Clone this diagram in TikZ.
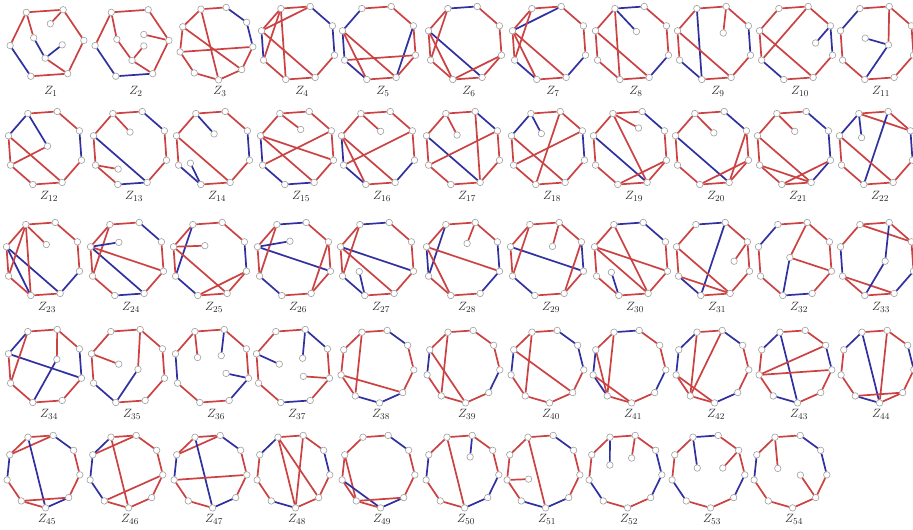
\documentclass[tikz,border=0pt]{standalone}
\usepackage{tikz}
\definecolor{zr}{RGB}{204,66,66}
\definecolor{zb}{RGB}{48,48,160}
\tikzset{
  vtx/.style={circle,draw=gray!75,fill=white,line width=0.6pt,inner sep=0pt,minimum size=6.5pt},
  edge/.style={line width=1.7pt},
  lab/.style={font=\fontsize{13}{15}\selectfont,text=black!85,inner sep=0pt,anchor=base}
}
\newcommand\zgraph[5]{%
  \pgfmathsetmacro\zR{(#4==8)?38.5:37}%
  \coordinate (z#1c) at (#2,530-#3);
  \foreach \i in {1,...,#4}{%
    \pgfmathsetmacro\zang{94+180/#4-(\i-1)*360/#4}%
    \node[vtx] (z#1v\i) at ([shift={(\zang:\zR)}]z#1c) {};
  }%
  \foreach \c [count=\i] in {#5}{%
    \pgfmathtruncatemacro\j{mod(\i,#4)+1}%
    \draw[edge,draw=z\c] (z#1v\i) -- (z#1v\j);
  }%
  \node[lab] (z#1l) at ([shift={(4,-52)}]z#1c) {$Z_{#1}$};
}
\newcommand\zpts[2]{\foreach \nm/\px/\py in {#2}{\node[vtx] (z#1\nm) at ([shift={(\px*37,\py*37)}]z#1c) {};}}
\newcommand\zedges[2]{\foreach \a/\b/\c in {#2}{\draw[edge,draw=z\c] (z#1\a) -- (z#1\b);}}
\begin{document}
\begin{tikzpicture}[x=1pt,y=1pt]
\useasboundingbox (0,0) rectangle (913,530);
\fill[white] (0,0) rectangle (913,530);
% ---------- row 1
\zgraph{1}{47}{43}{6}{r,r,r,r,b,r}
\zpts{1}{p1/0.09/0.52,p2/-0.36/0.14,p3/0.41/-0.05,p4/-0.05/-0.41}
\zedges{1}{v2/p1/r,v1/p2/r,p2/p4/b,p4/p3/b,p4/v4/r}
\zgraph{2}{132}{43}{6}{r,r,r,b,b,r}
\zpts{2}{p1/0.32/0.23,p2/-0.41/0.10,p3/0.32/-0.08,p4/0/-0.47}
\zedges{2}{v3/p1/r,v1/p2/r,p2/p4/r,p4/p3/r,p4/v4/r}
\zgraph{3}{216}{43}{9}{r,b,b,r,r,r,r,r,r}
\zedges{3}{v1/v6/r,v9/v5/r,v8/v4/r}
\zgraph{4}{298}{43}{8}{r,b,b,r,r,r,b,r}
\zedges{4}{v8/v2/r,v1/v7/r,v1/v6/r,v8/v5/r}
\zgraph{5}{379}{43}{8}{r,r,r,r,r,b,b,b}
\zedges{5}{v3/v5/b,v8/v6/r,v8/v5/r,v7/v4/r}
\zgraph{6}{465}{43}{8}{b,r,r,r,r,r,r,r}
\zedges{6}{v8/v5/b,v8/v6/r,v1/v7/r,v6/v4/r}
\zgraph{7}{549}{43}{8}{r,r,r,b,r,b,r,r}
\zedges{7}{v8/v2/b,v8/v5/r,v1/v7/r,v8/v6/r}
\zgraph{8}{632}{43}{8}{b,r,r,b,r,r,r,r}
\zpts{8}{p1/0.12/0.31}
\zedges{8}{v1/v6/r,v8/v5/r,v1/p1/b}
\zgraph{9}{714}{43}{8}{r,r,b,r,r,b,r,r}
\zpts{9}{p1/0.25/0.27}
\zedges{9}{v1/v6/b,v8/v5/r,v2/p1/r}
\zgraph{10}{796}{43}{8}{r,r,b,r,r,b,r,r}
\zpts{10}{p1/0.53/0}
\zedges{10}{v8/v5/r,v7/v2/r,v3/p1/b}
\zgraph{11}{877}{43}{8}{r,r,r,r,r,r,r,b}
\zpts{11}{q/0.31/-0.05,p/-0.32/0.13}
\zedges{11}{v2/q/r,q/p/b,q/v6/b}
% ---------- row 2
\zgraph{12}{45}{148}{8}{r,r,b,r,r,r,r,b}
\zpts{12}{p/0.07/0.05}
\zedges{12}{v8/v5/r,v1/p/b,p/v7/r}
\zgraph{13}{130}{148}{8}{r,b,r,r,b,r,r,r}
\zpts{13}{p1/0/0.43,p2/-0.32/-0.57}
\zedges{13}{v8/v5/b,v1/p1/r,v7/p2/r}
\zgraph{14}{213}{148}{8}{r,r,b,r,r,b,r,r}
\zpts{14}{p1/0.03/0.38,p2/-0.61/-0.41}
\zedges{14}{v8/v5/r,v1/p1/b,v6/p2/b}
\zgraph{15}{297}{148}{8}{r,r,r,r,b,b,b,r}
\zpts{15}{p1/0.1/0.5}
\zedges{15}{v8/v4/r,v8/v5/r,v7/v3/r,v1/p1/r}
\zgraph{16}{378}{148}{8}{r,r,r,b,r,b,b,r}
\zpts{16}{p1/0.07/0.45}
\zedges{16}{v8/v6/r,v8/v5/r,v7/v3/r,v1/p1/r}
\zgraph{17}{463}{148}{8}{r,b,r,r,r,r,r,r}
\zpts{17}{p1/-0.16/0.35}
\zedges{17}{v8/v5/b,v7/v3/r,v2/v5/r,v1/p1/r}
\zgraph{18}{548}{148}{8}{r,r,b,r,r,r,r,b}
\zpts{18}{p1/-0.18/0.39}
\zedges{18}{v2/v6/r,v8/v5/r,v7/v3/r,v1/p1/b}
\zgraph{19}{630}{148}{8}{r,b,r,r,r,r,r,r}
\zpts{19}{p1/0.23/0.54}
\zedges{19}{v8/v5/b,v1/v5/r,v6/v4/r,v1/p1/r}
\zgraph{20}{712}{148}{8}{r,b,r,r,r,r,r,r}
\zpts{20}{p1/0.05/0.41}
\zedges{20}{v8/v5/b,v6/v4/r,v5/v3/r,v1/p1/r}
\zgraph{21}{794}{148}{8}{r,b,b,b,r,r,r,r}
\zpts{21}{p1/0.02/0.45}
\zedges{21}{v8/v5/r,v7/v5/r,v6/v4/r,v1/p1/r}
\zgraph{22}{876}{148}{8}{r,r,b,r,r,r,r,b}
\zpts{22}{p1/-0.39/0.28}
\zedges{22}{v1/v3/r,v2/v6/b,v8/v5/r,v1/p1/b}
% ---------- row 3
\zgraph{23}{43}{259}{8}{r,r,r,b,r,r,r,r}
\zpts{23}{p1/0.09/0.39}
\zedges{23}{v8/v5/b,v8/v6/b,v1/v7/r,v1/v6/r,v1/p1/r}
\zgraph{24}{127}{259}{8}{r,b,r,r,b,r,r,r}
\zpts{24}{p1/-0.22/0.45}
\zedges{24}{v8/v4/r,v8/v5/b,v1/v7/r,v8/p1/b}
\zgraph{25}{210}{259}{8}{r,r,b,r,r,b,r,r}
\zpts{25}{p1/-0.14/0.36}
\zedges{25}{v1/v7/b,v8/v5/r,v6/v4/r,v8/p1/r}
\zgraph{26}{294}{259}{8}{b,r,r,r,r,b,r,r}
\zpts{26}{p1/-0.11/0.48}
\zedges{26}{v8/v4/b,v1/v7/r,v5/v3/r,v8/p1/b}
\zgraph{27}{377}{259}{8}{b,r,r,r,r,b,r,r}
\zpts{27}{p1/-0.48/-0.34}
\zedges{27}{v8/v4/b,v8/v5/r,v1/v7/r,v6/p1/b}
\zgraph{28}{463}{259}{8}{r,r,b,b,r,r,b,r}
\zpts{28}{p1/0.11/0.42}
\zedges{28}{v1/v7/b,v8/v4/r,v8/v6/r,v2/p1/r}
\zgraph{29}{547}{259}{8}{r,r,b,r,r,b,r,r}
\zpts{29}{p1/0.15/0.34}
\zedges{29}{v8/v4/b,v1/v7/r,v5/v3/r,v2/p1/r}
\zgraph{30}{631}{259}{8}{b,b,r,r,r,r,r,r}
\zpts{30}{p1/-0.53/-0.36}
\zedges{30}{v8/v4/r,v8/v5/r,v1/v5/r,v6/p1/b}
\zgraph{31}{713}{259}{8}{b,r,r,r,r,b,r,r}
\zpts{31}{p1/0.57/-0.06}
\zedges{31}{v2/v6/b,v8/v5/r,v7/v5/r,v3/p1/r}
\zgraph{32}{795}{259}{8}{r,r,r,r,b,r,r,b}
\zpts{32}{q/-0.14/0.04}
\zedges{32}{v2/q/r,q/v6/b,q/v4/r}
\zgraph{33}{877}{259}{8}{r,r,r,b,r,r,b,r}
\zpts{33}{q/0.22/-0.06}
\zedges{33}{v1/v3/r,v7/v5/r,v2/q/b,q/v6/b}
% ---------- row 4
\zgraph{34}{45}{366}{8}{r,r,b,r,r,r,r,b}
\zpts{34}{q/0.32/0.18}
\zedges{34}{v8/v4/b,v1/v7/r,v2/q/r,q/v6/b}
\zgraph{35}{128}{366}{8}{r,r,r,r,r,b,r,r}
\zpts{35}{q/0.27/-0.09,p/-0.25/0.05}
\zedges{35}{v2/q/r,q/v6/b,v8/p/r}
\zgraph{36}{212}{366}{8}{r,r,r,b,r,r,b,r}
\zpts{36}{p1/-0.39/0.23,p2/0.25/0.28,p3/0.38/-0.2}
\zedges{36}{v1/p1/r,v2/p2/b,v4/p3/b}
\zgraph{37}{293}{366}{8}{r,b,r,r,b,r,r,r}
\zpts{37}{p1/-0.37/0.05,p2/0.26/0.21,p3/0.28/-0.28}
\zedges{37}{v8/p1/b,v2/p2/b,v4/p3/r}
\zgraph{38}{377}{366}{9}{r,b,r,r,b,b,r,r,r}
\zedges{38}{v1/v7/r,v8/v5/r}
\zgraph{39}{463}{366}{9}{r,r,r,b,r,r,r,b,r}
\zedges{39}{v1/v7/r,v9/v6/r}
\zgraph{40}{547}{366}{9}{r,b,b,r,r,r,r,b,r}
\zedges{40}{v1/v7/r,v9/v5/r}
\zgraph{41}{629}{366}{9}{b,r,r,b,r,r,b,b,r}
\zedges{41}{v1/v7/r,v9/v7/r,v8/v6/r}
\zgraph{42}{712}{366}{9}{r,b,r,r,b,r,r,b,b}
\zedges{42}{v1/v7/r,v2/v7/r,v8/v6/r}
\zgraph{43}{795}{366}{9}{r,r,b,r,r,b,r,r,b}
\zedges{43}{v1/v6/b,v8/v3/r,v8/v4/r}
\zgraph{44}{877}{366}{9}{r,r,b,r,r,b,r,r,b}
\zedges{44}{v1/v6/b,v2/v6/r,v7/v5/r}
% ---------- row 5
\zgraph{45}{43}{471}{9}{r,b,r,r,b,r,r,b,r}
\zedges{45}{v9/v2/r,v1/v6/b,v7/v5/r}
\zgraph{46}{126}{471}{9}{r,r,r,r,r,r,b,b,b}
\zedges{46}{v9/v2/r,v1/v6/r,v7/v4/r}
\zgraph{47}{210}{471}{9}{r,b,r,r,b,r,r,b,r}
\zedges{47}{v9/v2/r,v1/v6/b,v8/v4/r}
\zgraph{48}{293}{471}{9}{r,r,b,r,r,b,r,r,b}
\zedges{48}{v1/v6/r,v1/v5/r,v2/v6/r}
\zgraph{49}{378}{471}{9}{r,b,r,r,b,r,r,r,r}
\zedges{49}{v9/v7/r,v8/v6/b,v7/v5/r}
\zgraph{50}{462}{471}{9}{r,r,r,b,b,r,r,b,r}
\zpts{50}{p1/0.22/0.38}
\zedges{50}{v1/v6/r,v2/p1/b}
\zgraph{51}{543}{471}{9}{r,b,r,r,b,b,r,r,r}
\zpts{51}{p1/-0.39/-0.22}
\zedges{51}{v1/v6/r,v8/p1/r}
\zgraph{52}{625}{471}{9}{r,r,b,b,r,r,b,r,r}
\zpts{52}{p1/-0.41/0.16,p2/0.18/0.35}
\zedges{52}{v1/p1/b,v2/p2/r}
\zgraph{53}{708}{471}{9}{b,r,r,b,r,r,b,r,r}
\zpts{53}{p1/-0.29/0.08,p2/0.4/0.08}
\zedges{53}{v1/p1/b,v3/p2/r}
\zgraph{54}{790}{471}{9}{r,b,b,r,r,r,r,b,r}
\zpts{54}{p1/-0.33/0.07,p2/0.28/-0.11}
\zedges{54}{v1/p1/r,v5/p2/r}
\end{tikzpicture}
\end{document}
